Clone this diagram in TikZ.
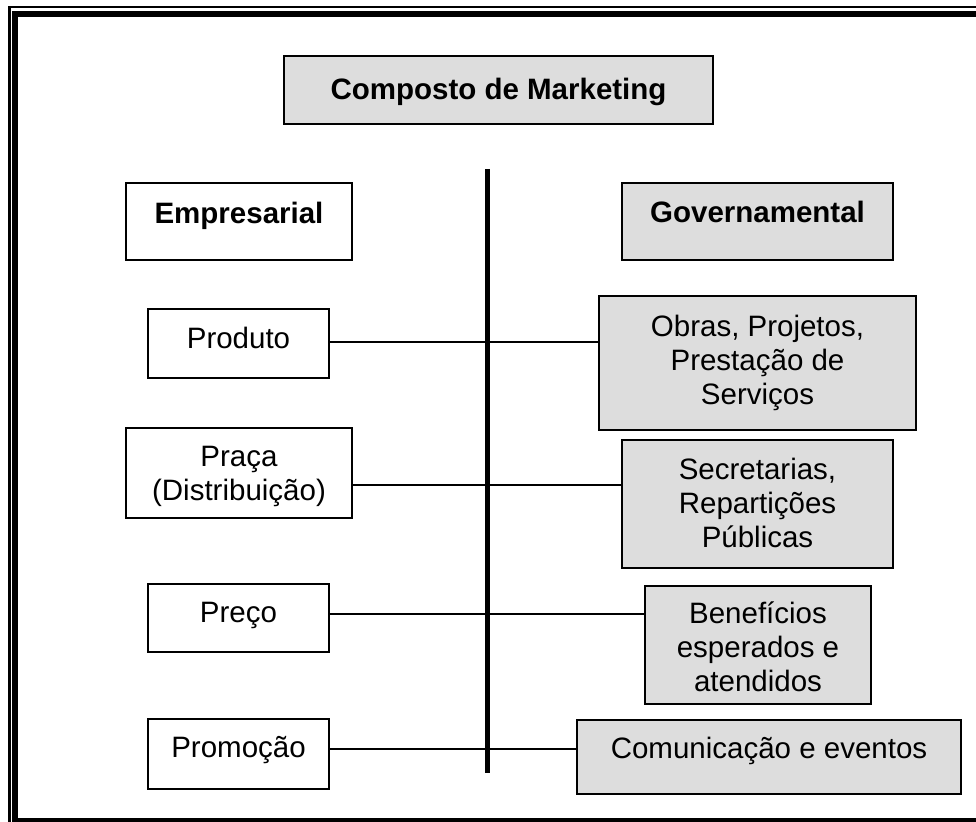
\documentclass[tikz,border=0pt]{standalone}
\usepackage{fontspec}
\setmainfont{Liberation Sans}
\definecolor{boxgrey}{RGB}{221,221,221}
\begin{document}
\begin{tikzpicture}[x=1pt,y=-1pt,
  box/.style={draw=black, line width=1.5pt, inner sep=0pt, rectangle},
  wbox/.style={box, fill=white},
  gbox/.style={box, fill=boxgrey},
  txt/.style={font=\fontsize{29.5}{34}\selectfont, inner sep=0pt, align=center, anchor=base},
  btxt/.style={txt, font=\fontsize{29.5}{34}\selectfont\bfseries},
  conn/.style={draw=black, line width=1.2pt},
  axis line/.style={draw=black, line width=5pt}]
\useasboundingbox (0,0) rectangle (976,821);
\begin{scope}
\clip (0,0) rectangle (976,821);
\draw[line width=2.5pt] (9.5,7) rectangle (1000,840);
\draw[line width=5.5pt] (15,14) rectangle (990,821);
\end{scope}

% boxes
\node[gbox, minimum width=429pt, minimum height=68pt] (title) at (498.5,90) {};
\node[wbox, minimum width=226pt, minimum height=77pt] (emp) at (239,221.5) {};
\node[gbox, minimum width=271pt, minimum height=77pt] (gov) at (757.5,221.5) {};
\node[wbox, minimum width=181pt, minimum height=69pt] (prod) at (238.5,343.5) {};
\node[wbox, minimum width=226pt, minimum height=90pt] (praca) at (239,473) {};
\node[wbox, minimum width=181pt, minimum height=68pt] (preco) at (238.5,618) {};
\node[wbox, minimum width=181pt, minimum height=70pt] (promo) at (238.5,754) {};
\node[gbox, minimum width=317pt, minimum height=134pt] (obras) at (757.5,363) {};
\node[gbox, minimum width=271pt, minimum height=128pt] (secr) at (757.5,504) {};
\node[gbox, minimum width=226pt, minimum height=118pt] (bene) at (758,645) {};
\node[gbox, minimum width=384pt, minimum height=74pt] (comu) at (769,757) {};

% texts (base anchor = baseline of the last line)
\node[btxt] (titleT) at (498.5,100) {Composto de Marketing};
\node[btxt] (empT) at (239,223) {Empresarial};
\node[btxt] (govT) at (757.5,222) {Governamental};
\node[txt] (prodT) at (238.5,348) {Produto};
\node[txt] (pracaT) at (239,500) {Praça\\(Distribuição)};
\node[txt] (precoT) at (238.5,622) {Preço};
\node[txt] (promoT) at (238.5,757) {Promoção};
\node[txt] (obrasT) at (757.5,404) {Obras, Projetos,\\Prestação de\\Serviços};
\node[txt] (secrT) at (757.5,547) {Secretarias,\\Repartições\\Públicas};
\node[txt] (beneT) at (758,691) {Benefícios\\esperados e\\atendidos};
\node[txt] (comuT) at (769,758) {Comunicação e eventos};

% central axis
\coordinate (vtop) at (487.5,169);
\coordinate (vbot) at (487.5,773);
\draw[axis line] (vtop) -- (vbot);

% connectors
\draw[conn] ([yshift=1.5pt]prod.east) -- ([yshift=1.5pt]prod.east -| obras.west);
\draw[conn] ([yshift=-12pt]praca.east) -- ([yshift=-12pt]praca.east -| secr.west);
\draw[conn] ([yshift=4pt]preco.east) -- ([yshift=4pt]preco.east -| bene.west);
\draw[conn] ([yshift=5pt]promo.east) -- ([yshift=5pt]promo.east -| comu.west);
\end{tikzpicture}
\end{document}
